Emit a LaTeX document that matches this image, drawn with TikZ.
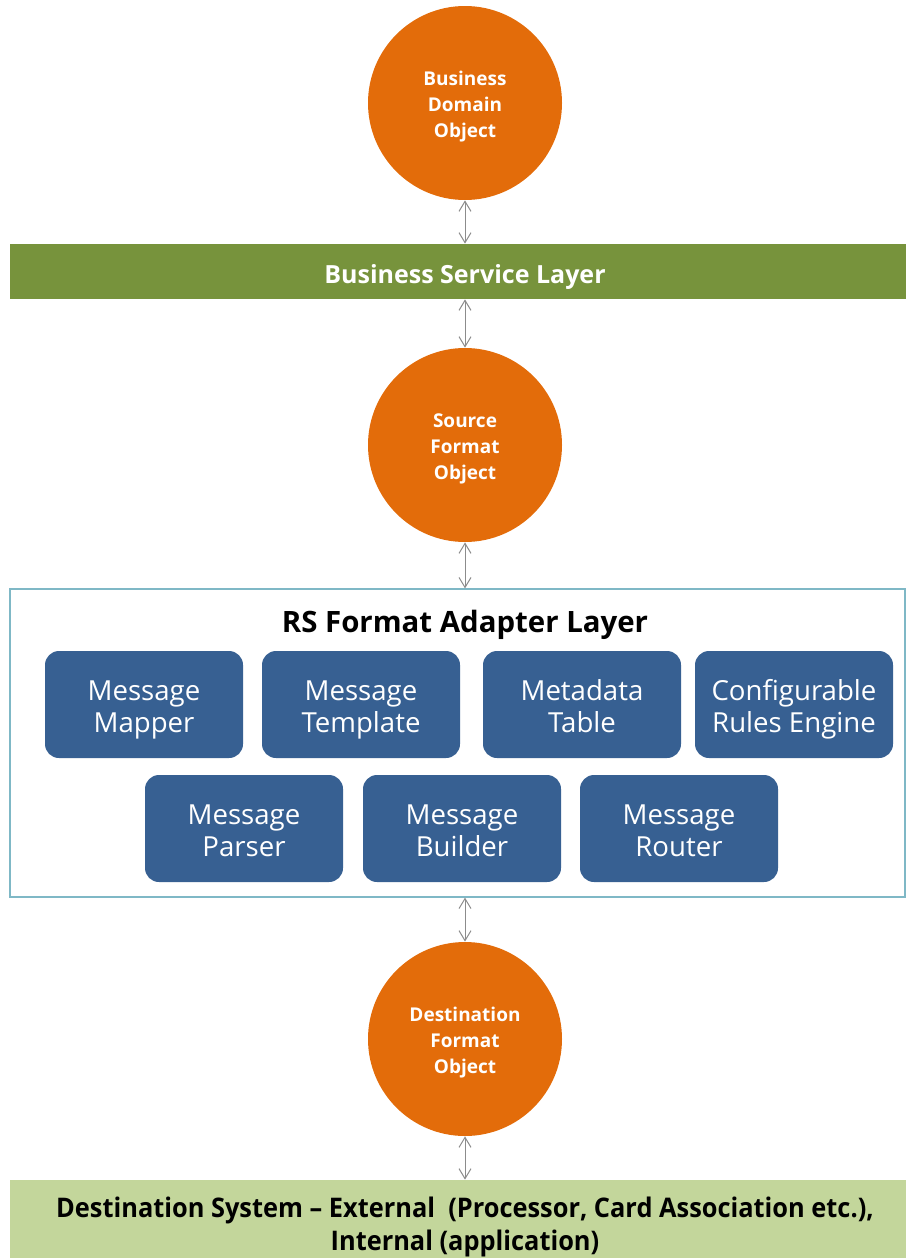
\documentclass[tikz,border=0pt]{standalone}
\usepackage{fontspec}
\setmainfont{Open Sans}
\newfontfamily\narrowfont[FakeStretch=0.94]{Open Sans}
\usetikzlibrary{arrows.meta}

\definecolor{objorange}{HTML}{E36C0A}
\definecolor{layergreen}{HTML}{77933C}
\definecolor{destgreen}{HTML}{C3D69B}
\definecolor{partblue}{HTML}{376092}
\definecolor{framecyan}{HTML}{7FB8C6}
\definecolor{linkgray}{HTML}{8C8C8C}

\tikzset{
  object/.style={circle,fill=objorange,text=white,minimum size=97pt,inner sep=0pt,
    align=center,text height=37pt,font=\fontsize{9.5}{13}\selectfont\bfseries},
  layer/.style={fill=layergreen,text=white,minimum width=455pt,minimum height=27.5pt,
    inner sep=0pt,text height=14.5pt,font=\fontsize{12.5}{15}\selectfont\bfseries},
  part/.style={fill=partblue,text=white,rounded corners=7pt,minimum width=99pt,
    minimum height=53.5pt,inner sep=0pt,align=center,text height=31pt,text depth=3.5pt,
    font=\fontsize{13.8}{16}\selectfont},
  link/.style={draw=linkgray,line width=0.5pt,{Straight Barb[length=5pt,width=6pt]}-{Straight Barb[length=5pt,width=6pt]}}
}

\begin{document}
\begin{tikzpicture}[x=0.5pt,y=-0.5pt]
	\useasboundingbox (0,0) rectangle (905,1258);

	\node[object] (bdo) at (465,103) {Business\\Domain\\Object};
	\node[layer] (bsl) at (465,271.5) {Business Service Layer};
	\node[object] (sfo) at (465,445) {Source\\Format\\Object};

	% adapter layer frame
	\node[draw=framecyan,line width=0.6pt,minimum width=447.5pt,minimum height=154pt,inner sep=0pt] (rsf) at (457.5,743) {};
	\node[text height=13.3pt,font=\fontsize{14.7}{16}\selectfont\bfseries] (rsft) at (465,623) {RS Format Adapter Layer};

	\node[part] (mmap) at (144,704.5) {Message\\Mapper};
	\node[part] (mtpl) at (361,704.5) {Message\\Template};
	\node[part] (mtab) at (582,704.5) {Metadata\\Table};
	\node[part] (cre)  at (794,704.5) {Configurable\\Rules Engine};
	\node[part] (mpar) at (244,828.5) {Message\\Parser};
	\node[part] (mbld) at (462,828.5) {Message\\Builder};
	\node[part] (mrtr) at (679,828.5) {Message\\Router};

	\node[object] (dfo) at (465,1039) {Destination\\Format\\Object};

	\node[fill=destgreen,minimum width=455pt,minimum height=39pt,inner sep=0pt,align=center,
		text height=35pt,font=\narrowfont\fontsize{13.5}{16.5}\selectfont\bfseries] (dst) at (465,1219)
		{Destination System – External~~(Processor, Card Association etc.),\\Internal (application)};

	% links
	\draw[link] (bdo.south) -- (bdo.south |- bsl.north);
	\draw[link] (sfo.north |- bsl.south) -- (sfo.north);
	\draw[link] (sfo.south) -- (sfo.south |- rsf.north);
	\draw[link] (dfo.north |- rsf.south) -- (dfo.north);
	\draw[link] (dfo.south) -- (dfo.south |- dst.north);
\end{tikzpicture}
\end{document}
